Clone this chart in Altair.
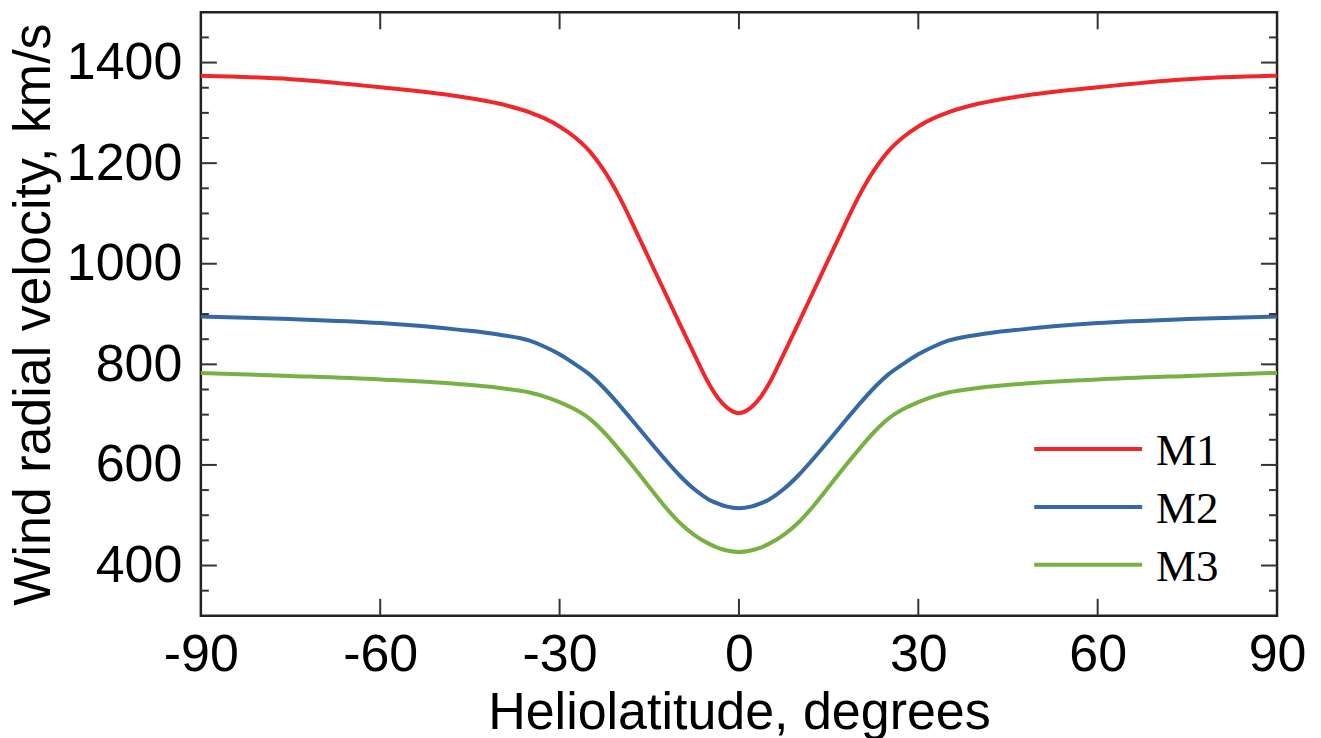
import altair as alt
import pandas as pd

# Heliolatitude samples (degrees)
lat = [-90, -75, -60, -47, -40, -35, -32.5, -30, -27.5, -25, -22.5, -20, -17.5, -15, -12.5, -10, -7.5, -5, -3.5, -2, 0,
       2, 3.5, 5, 7.5, 10, 12.5, 15, 17.5, 20, 22.5, 25, 27.5, 30, 32.5, 35, 40, 47, 60, 75, 90]

# Wind radial velocity (km/s)
m1 = [1374, 1367, 1351, 1333, 1318, 1301, 1289, 1273, 1252, 1224, 1184, 1133, 1072, 1009, 946, 883, 821, 761, 733, 714, 703,
      714, 733, 761, 821, 883, 946, 1009, 1072, 1133, 1184, 1224, 1252, 1273, 1289, 1301, 1318, 1333, 1351, 1367, 1374]
m2 = [895, 890, 882, 869, 859, 847, 835, 820, 801, 780, 752, 719, 684, 648, 613, 580, 552, 531, 523, 517, 514,
      517, 523, 531, 552, 580, 613, 648, 684, 719, 752, 780, 801, 820, 835, 847, 859, 869, 882, 890, 895]
m3 = [783, 777, 770, 761, 753, 744, 736, 725, 711, 692, 664, 630, 594, 556, 519, 486, 461, 443, 435, 430, 427,
      430, 435, 443, 461, 486, 519, 556, 594, 630, 664, 692, 711, 725, 736, 744, 753, 761, 770, 777, 783]

series_names = ["M1", "M2", "M3"]
series_colors = ["#f1262b", "#3568a4", "#77b043"]

x_ticks = [-90, -60, -30, 0, 30, 60, 90]
x_inner_ticks = [-60, -30, 0, 30, 60]
y_ticks = [400, 600, 800, 1000, 1200, 1400]
y_minor = [350, 450, 500, 550, 650, 700, 750, 850, 900, 950, 1050, 1100, 1150,
           1250, 1300, 1350, 1450]

rows = []
for name, vals in zip(series_names, [m1, m2, m3]):
    for a, v in zip(lat, vals):
        rows.append({"series": name, "lat": a, "vel": v})
df = pd.DataFrame(rows)
legend_df = pd.DataFrame({"series": series_names})

W, H = 1077, 604
FONT = "Liberation Sans"

xscale = alt.Scale(domain=[-90, 90], nice=False, zero=False)
yscale = alt.Scale(domain=[300, 1500], nice=False, zero=False)
cscale = alt.Scale(domain=series_names, range=series_colors)

lines = alt.Chart(df).mark_line(strokeWidth=4, interpolate="monotone").encode(
    x=alt.X("lat:Q", scale=xscale,
            axis=alt.Axis(values=x_ticks, title="Heliolatitude, degrees",
                          labelExpr="'' + datum.value",
                          labelFont=FONT, labelFontSize=52, labelColor="#000",
                          labelBaseline="alphabetic", labelPadding=55,
                          labelFlush=False, labelOverlap=False,
                          ticks=False, tickSize=0, domain=False, grid=False,
                          titleFont=FONT, titleFontSize=52, titleFontWeight="normal",
                          titleColor="#000", titleBaseline="alphabetic",
                          titleX=W / 2, titleY=113, titleAlign="center")),
    y=alt.Y("vel:Q", scale=yscale,
            axis=alt.Axis(values=y_ticks, title="Wind radial velocity, km/s",
                          labelExpr="'' + datum.value",
                          labelFont=FONT, labelFontSize=52, labelColor="#000",
                          labelBaseline="middle", labelAlign="right", labelPadding=19,
                          labelFlush=False, labelOverlap=False,
                          ticks=False, tickSize=0, domain=False, grid=False,
                          titleFont=FONT, titleFontSize=52, titleFontWeight="normal",
                          titleColor="#000", titleBaseline="alphabetic",
                          titleAngle=270, titleX=-151, titleY=H / 2, titleAlign="center")),
    color=alt.Color("series:N", scale=cscale, legend=None),
)

tick_color = "#333"
xt = pd.DataFrame({"v": x_inner_ticks})
yt = pd.DataFrame({"v": y_ticks})
ym = pd.DataFrame({"v": y_minor})

x_bottom = alt.Chart(xt).mark_rule(color=tick_color, strokeWidth=2).encode(
    x=alt.X("v:Q", scale=xscale), y=alt.value(H), y2=alt.value(H - 17))
x_top = alt.Chart(xt).mark_rule(color=tick_color, strokeWidth=2).encode(
    x=alt.X("v:Q", scale=xscale), y=alt.value(0), y2=alt.value(17))
y_left = alt.Chart(yt).mark_rule(color=tick_color, strokeWidth=2).encode(
    y=alt.Y("v:Q", scale=yscale), x=alt.value(0), x2=alt.value(16))
y_right = alt.Chart(yt).mark_rule(color=tick_color, strokeWidth=2).encode(
    y=alt.Y("v:Q", scale=yscale), x=alt.value(W), x2=alt.value(W - 16))
ym_left = alt.Chart(ym).mark_rule(color=tick_color, strokeWidth=2).encode(
    y=alt.Y("v:Q", scale=yscale), x=alt.value(0), x2=alt.value(8))
ym_right = alt.Chart(ym).mark_rule(color=tick_color, strokeWidth=2).encode(
    y=alt.Y("v:Q", scale=yscale), x=alt.value(W), x2=alt.value(W - 8))

# legend (drawn as marks so the entry spacing matches)
leg_y = alt.Y("series:N", scale=alt.Scale(type="point", domain=series_names,
                                          range=[437, 553], padding=0), axis=None)
leg_lines = alt.Chart(legend_df).mark_rule(strokeWidth=4).encode(
    y=leg_y, x=alt.value(834), x2=alt.value(942),
    color=alt.Color("series:N", scale=cscale, legend=None))
leg_text = alt.Chart(legend_df).mark_text(
    align="left", baseline="middle", font="Liberation Serif", fontSize=45,
    color="#000", dy=2).encode(y=leg_y, x=alt.value(956), text="series:N")
legend = alt.layer(leg_lines, leg_text)

plot = alt.layer(lines, x_bottom, x_top, y_left, y_right, ym_left, ym_right)

chart = alt.layer(plot, legend).resolve_scale(y="independent").properties(
    width=W, height=H,
    autosize=alt.AutoSizeParams(type="none"),
    padding={"left": 193, "top": 4, "right": 36, "bottom": 126},
    background="white",
).configure_view(stroke="#222", strokeWidth=2.5)

chart.save("out.html", embed_options={"renderer": "svg", "actions": False})
